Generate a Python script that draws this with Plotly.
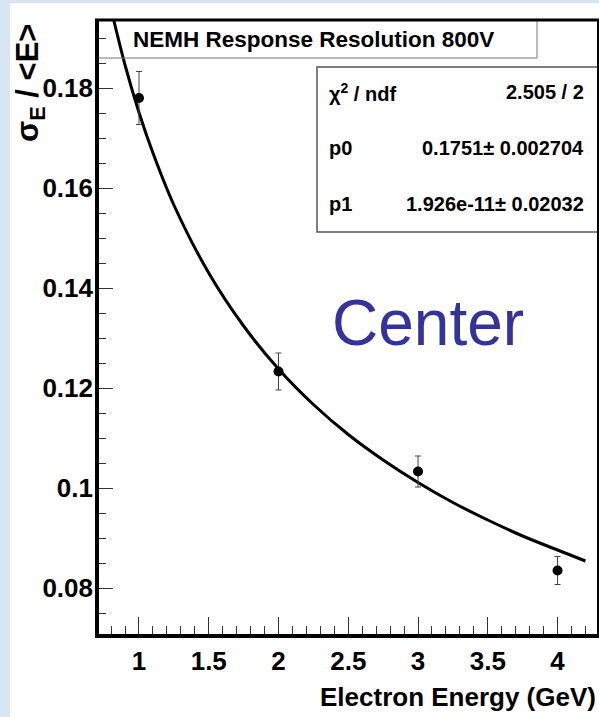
import plotly.graph_objects as go

# ---- data ----
energy = [1, 2, 3, 4]
resolution = [0.1780, 0.1233, 0.1033, 0.0835]
res_err = [0.0053, 0.0037, 0.0031, 0.0028]

fit_energy = [0.80, 0.90, 1.00, 1.10, 1.25, 1.50, 1.75, 2.00, 2.25, 2.50, 2.75, 3.00, 3.25, 3.50, 3.75, 4.00, 4.20]
fit_value = [0.1958, 0.1846, 0.1751, 0.1670, 0.1566, 0.1430, 0.1324, 0.1238, 0.1167, 0.1107, 0.1056, 0.1011, 0.0971, 0.0936, 0.0904, 0.0876, 0.0854]

x_tick_vals = [1, 1.5, 2, 2.5, 3, 3.5, 4]
x_tick_text = ["1", "1.5", "2", "2.5", "3", "3.5", "4"]
y_tick_vals = [0.08, 0.10, 0.12, 0.14, 0.16, 0.18]
y_tick_text = ["0.08", "0.1", "0.12", "0.14", "0.16", "0.18"]

title_text = "NEMH Response Resolution 800V"
stats_labels = ["χ<sup>2</sup> / ndf", "p0", "p1"]
stats_values = ["2.505 / 2", "0.1751± 0.002704", "1.926e-11± 0.02032"]
x_title = "Electron Energy (GeV)"
y_title = "σ<sub>E</sub> / &lt;E&gt;"
label_text = "Center"

# ---- layout geometry (pixels) ----
W, H = 599, 717
L, R, T, B = 97, 598, 20, 636


def px(x):
    return (x - L) / (R - L)


def py(y):
    return (B - y) / (B - T)


BOLD = "Liberation Sans, Arial, sans-serif"
REG = "Liberation Sans, Arial, sans-serif"

fig = go.Figure()

fig.add_trace(go.Scatter(
    x=fit_energy, y=fit_value, mode="lines",
    line=dict(color="black", width=3, shape="spline"),
    hoverinfo="skip", showlegend=False,
))

fig.add_trace(go.Scatter(
    x=energy, y=resolution, mode="markers",
    marker=dict(color="black", size=10, symbol="circle"),
    error_y=dict(type="data", array=res_err, visible=True,
                 color="#444444", thickness=1, width=3),
    showlegend=False,
))

shapes = []
# white canvas over the blue slide background
shapes.append(dict(type="rect", xref="paper", yref="paper",
                   x0=px(10), x1=px(W + 5), y0=py(H + 5), y1=py(3),
                   fillcolor="white", line=dict(width=0), layer="below"))
# title box (transparent, the fit curve shows through)
shapes.append(dict(type="rect", xref="paper", yref="paper",
                   x0=px(L), x1=px(537), y0=py(58), y1=py(T),
                   fillcolor="rgba(0,0,0,0)", line=dict(color="#777777", width=1)))
# stats box
shapes.append(dict(type="rect", xref="paper", yref="paper",
                   x0=px(317), x1=px(R), y0=py(232), y1=py(67),
                   fillcolor="white", line=dict(color="#555555", width=1.5)))
# frame
shapes.append(dict(type="line", xref="paper", yref="paper",
                   x0=px(L), x1=px(L), y0=py(B + 2), y1=py(T - 1),
                   line=dict(color="black", width=4)))
shapes.append(dict(type="line", xref="paper", yref="paper",
                   x0=px(L - 2), x1=px(R + 1), y0=py(B), y1=py(B),
                   line=dict(color="black", width=4)))
shapes.append(dict(type="line", xref="paper", yref="paper",
                   x0=px(L - 2), x1=px(R + 1), y0=py(T), y1=py(T),
                   line=dict(color="black", width=3)))
shapes.append(dict(type="line", xref="paper", yref="paper",
                   x0=px(R), x1=px(R), y0=py(B), y1=py(T),
                   line=dict(color="black", width=2)))

annotations = []
annotations.append(dict(xref="paper", yref="paper", x=px(131), y=py(40),
                        xanchor="left", yanchor="middle", showarrow=False,
                        text=title_text,
                        font=dict(family=BOLD, size=22.5, color="black", weight="bold")))
row_y = [92, 148, 204]
for lab, val, yy in zip(stats_labels, stats_values, row_y):
    annotations.append(dict(xref="paper", yref="paper", x=px(327), y=py(yy),
                            xanchor="left", yanchor="middle", showarrow=False,
                            text=lab,
                            font=dict(family=BOLD, size=20, color="black", weight="bold")))
    annotations.append(dict(xref="paper", yref="paper", x=px(586), y=py(yy),
                            xanchor="right", yanchor="middle", showarrow=False,
                            text=val,
                            font=dict(family=BOLD, size=20, color="black", weight="bold")))
annotations.append(dict(xref="paper", yref="paper", x=px(428), y=py(323),
                        xanchor="center", yanchor="middle", showarrow=False,
                        text=label_text,
                        font=dict(family=REG, size=64, color="#333399")))
annotations.append(dict(xref="paper", yref="paper", x=px(598), y=py(697),
                        xanchor="right", yanchor="middle", showarrow=False,
                        text=x_title,
                        font=dict(family=BOLD, size=26, color="black", weight="bold")))
annotations.append(dict(xref="paper", yref="paper", x=px(30), y=py(22),
                        xanchor="center", yanchor="top", showarrow=False,
                        text=y_title, textangle=-90,
                        font=dict(family=BOLD, size=31, color="black", weight="bold")))

fig.update_layout(
    width=W, height=H,
    margin=dict(l=L, r=W - R, t=T, b=H - B, pad=0),
    paper_bgcolor="#d8e6f4",
    plot_bgcolor="white",
    shapes=shapes,
    annotations=annotations,
    showlegend=False,
)

fig.update_xaxes(
    range=[0.699, 4.29], showgrid=False, zeroline=False, showline=False,
    tickvals=x_tick_vals, ticktext=x_tick_text,
    ticks="inside", ticklen=19, tickwidth=1, tickcolor="#333333",
    minor=dict(ticks="inside", ticklen=10, tickwidth=1, tickcolor="#333333", dtick=0.1, tick0=0),
    tickfont=dict(family=BOLD, size=26, color="black", weight="bold"),
    ticklabelstandoff=7,
)
fig.update_yaxes(
    range=[0.0704, 0.1936], showgrid=False, zeroline=False, showline=False,
    tickvals=y_tick_vals, ticktext=y_tick_text,
    ticks="inside", ticklen=16, tickwidth=1, tickcolor="#333333",
    minor=dict(ticks="inside", ticklen=9, tickwidth=1, tickcolor="#333333", dtick=0.005, tick0=0),
    tickfont=dict(family=BOLD, size=26, color="black", weight="bold"),
    ticklabelstandoff=3,
)

fig.write_html("out.html")
